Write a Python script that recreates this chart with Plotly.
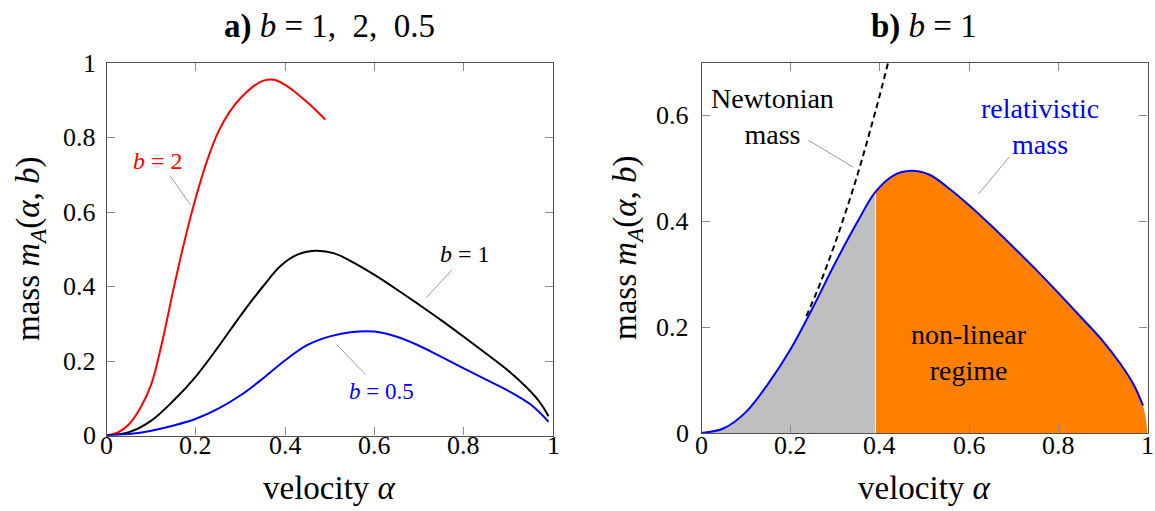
import plotly.graph_objects as go

# ---- data ----
alpha_b2 = [0, 0.025, 0.05, 0.075, 0.1, 0.125, 0.15, 0.175, 0.2, 0.225, 0.25, 0.275,
            0.3, 0.325, 0.35, 0.375, 0.4, 0.425, 0.45, 0.475, 0.49]
mass_b2 = [0, 0.008, 0.03, 0.073, 0.138, 0.255, 0.395, 0.525, 0.64, 0.738, 0.815, 0.868,
           0.906, 0.934, 0.952, 0.955, 0.941, 0.919, 0.894, 0.866, 0.848]

alpha_b1 = [0, 0.05, 0.1, 0.15, 0.2, 0.25, 0.3, 0.35, 0.39, 0.43, 0.47, 0.51,
            0.55, 0.6, 0.65, 0.7, 0.75, 0.8, 0.85, 0.9, 0.94, 0.97, 0.99]
mass_b1 = [0, 0.009, 0.04, 0.094, 0.159, 0.238, 0.322, 0.40, 0.456, 0.487, 0.496, 0.489,
           0.466, 0.431, 0.392, 0.351, 0.309, 0.265, 0.22, 0.174, 0.13, 0.09, 0.052]

alpha_b05 = [0, 0.05, 0.1, 0.15, 0.2, 0.25, 0.3, 0.35, 0.4, 0.45, 0.5, 0.55,
             0.6, 0.65, 0.7, 0.75, 0.8, 0.85, 0.9, 0.95, 0.99]
mass_b05 = [0, 0.004, 0.013, 0.027, 0.045, 0.072, 0.108, 0.153, 0.202, 0.243, 0.266,
            0.278, 0.279, 0.265, 0.241, 0.211, 0.18, 0.15, 0.12, 0.083, 0.037]

alpha_newton = [0.235, 0.26, 0.28, 0.30, 0.32, 0.34, 0.36, 0.38, 0.40, 0.42]
mass_newton = [0.221, 0.27, 0.314, 0.36, 0.41, 0.462, 0.518, 0.578, 0.64, 0.706]

regime_split = 0.39
alpha_end, mass_end = 1.0, 0.0

tick_vals = [0, 0.2, 0.4, 0.6, 0.8, 1]
tick_text = ["0", "0.2", "0.4", "0.6", "0.8", "1"]
ytick_vals_right = [0, 0.2, 0.4, 0.6]

x_title = "velocity <i>α</i>"
y_title = "mass <i>m<sub>A</sub></i>(<i>α</i>, <i>b</i>)"
title_a = "<b>a)</b> <i>b</i> = 1,&nbsp; 2,&nbsp; 0.5"
title_b = "<b>b)</b> <i>b</i> = 1"

FONT = "Liberation Serif"
TICK_SIZE = 26
AX_TITLE_SIZE = 33

fig = go.Figure()

# ---- left panel ----
fig.add_trace(go.Scatter(x=alpha_b2, y=mass_b2, mode="lines", line=dict(color="#ff0000", width=2, shape="spline"),
                         xaxis="x", yaxis="y", showlegend=False))
fig.add_trace(go.Scatter(x=alpha_b1, y=mass_b1, mode="lines", line=dict(color="#000000", width=2, shape="spline"),
                         xaxis="x", yaxis="y", showlegend=False))
fig.add_trace(go.Scatter(x=alpha_b05, y=mass_b05, mode="lines", line=dict(color="#0000ff", width=2, shape="spline"),
                         xaxis="x", yaxis="y", showlegend=False))

# ---- right panel ----
i = alpha_b1.index(regime_split)
fig.add_trace(go.Scatter(x=alpha_b1[:i + 1], y=mass_b1[:i + 1], mode="lines", fill="tozeroy",
                         fillcolor="#bfbfbf", line=dict(width=0, shape="spline", color="#bfbfbf"),
                         xaxis="x2", yaxis="y2", showlegend=False))
fig.add_trace(go.Scatter(x=alpha_b1[i:] + [alpha_end], y=mass_b1[i:] + [mass_end], mode="lines", fill="tozeroy",
                         fillcolor="#ff8000", line=dict(width=0, shape="spline", color="#ff8000"),
                         xaxis="x2", yaxis="y2", showlegend=False))
fig.add_trace(go.Scatter(x=[regime_split, regime_split], y=[0, mass_b1[i]], mode="lines",
                         line=dict(color="white", width=1), xaxis="x2", yaxis="y2", showlegend=False))
fig.add_trace(go.Scatter(x=alpha_newton, y=mass_newton, mode="lines",
                         line=dict(color="black", width=2, dash="6px,4px", shape="spline"),
                         xaxis="x2", yaxis="y2", showlegend=False))
fig.add_trace(go.Scatter(x=alpha_b1, y=mass_b1, mode="lines", line=dict(color="#0000ff", width=2, shape="spline"),
                         xaxis="x2", yaxis="y2", showlegend=False))

axis_common = dict(
    tickvals=tick_vals, ticks="inside", ticklen=8, tickcolor="#8a8a8a", tickwidth=1,
    showline=True, linecolor="#505050", linewidth=1.3, mirror="ticks", showgrid=False, zeroline=False,
    showticklabels=False, automargin=False, fixedrange=True,
)

W, H = 1155, 511
L_X0, L_X1, L_YB, L_YT = 106.7, 553.0, 435.5, 63.0
R_X0, R_X1, R_YB, R_YT = 701.5, 1147.5, 433.0, 63.0

fig.update_layout(
    width=W, height=H,
    margin=dict(l=0, r=0, t=0, b=0),
    paper_bgcolor="white", plot_bgcolor="white",
    font=dict(family=FONT, color="black"),
    xaxis=dict(domain=[L_X0 / W, L_X1 / W], range=[0, 1], anchor="y", **axis_common),
    yaxis=dict(domain=[1 - L_YB / H, 1 - L_YT / H], range=[0, 1], anchor="x", **axis_common),
    xaxis2=dict(domain=[R_X0 / W, R_X1 / W], range=[0, 1], anchor="y2", **axis_common),
    yaxis2=dict(domain=[1 - R_YB / H, 1 - R_YT / H], range=[0, 0.7], anchor="x2", **axis_common),
)

anns = []
tick_font = dict(family=FONT, size=TICK_SIZE, color="black")
# x tick labels
for xr in ("x", "x2"):
    for v, t in zip(tick_vals, tick_text):
        anns.append(dict(text=t, x=v, xref=xr, y=1 - 445 / H, yref="paper", xanchor="center",
                         yanchor="middle", showarrow=False, font=tick_font))
# y tick labels
for v, t in zip(tick_vals, tick_text):
    anns.append(dict(text=t, x=(L_X0 - 9) / W, xref="paper", y=v, yref="y", xanchor="right",
                     yanchor="middle", showarrow=False, font=tick_font))
for v, t in zip(tick_vals, tick_text):
    if v in ytick_vals_right:
        anns.append(dict(text=t, x=(R_X0 - 11) / W, xref="paper", y=v, yref="y2", xanchor="right",
                         yanchor="middle", showarrow=False, font=tick_font))
# axis titles
ax_font = dict(family=FONT, size=AX_TITLE_SIZE, color="black")
anns += [
    dict(text=x_title, x=(L_X0 + L_X1) / 2 / W, y=1 - 488 / H, xref="paper", yref="paper", font=ax_font),
    dict(text=x_title, x=(R_X0 + R_X1) / 2 / W, y=1 - 488 / H, xref="paper", yref="paper", font=ax_font),
    dict(text=y_title, x=31 / W, y=1 - 249 / H, xref="paper", yref="paper", font=ax_font, textangle=-90),
    dict(text=y_title, x=627 / W, y=1 - 248 / H, xref="paper", yref="paper", font=ax_font, textangle=-90),
]
# panel titles and labels
anns += [
    dict(text=title_a, x=(L_X0 + L_X1) / 2 / W, y=1 - 26 / H, xref="paper", yref="paper",
         font=dict(size=33, color="black")),
    dict(text=title_b, x=924 / W, y=1 - 26 / H, xref="paper", yref="paper",
         font=dict(size=33, color="black")),
    dict(text="<i>b</i> = 2", x=0.115, y=0.737, xref="x", yref="y", font=dict(size=24, color="#ff0000")),
    dict(text="<i>b</i> = 1", x=0.802, y=0.487, xref="x", yref="y", font=dict(size=24, color="black")),
    dict(text="<i>b</i> = 0.5", x=0.615, y=0.119, xref="x", yref="y", font=dict(size=23, color="#0000ff")),
    dict(text="Newtonian<br>mass", x=0.160, y=0.599, xref="x2", yref="y2", font=dict(size=28, color="black")),
    dict(text="relativistic<br>mass", x=0.76, y=0.579, xref="x2", yref="y2", font=dict(size=28, color="#0000ff")),
    dict(text="non-linear<br>regime", x=0.599, y=0.153, xref="x2", yref="y2", font=dict(size=28, color="black")),
]
for a in anns:
    a.setdefault("showarrow", False)
    a.setdefault("xanchor", "center")
    a.setdefault("yanchor", "middle")
    a["align"] = "center"
    a["font"] = dict(a["font"], family=FONT)
fig.update_layout(annotations=anns)

leaders = [
    ("x", "y", 0.142, 0.697, 0.188, 0.619),
    ("x", "y", 0.773, 0.444, 0.717, 0.371),
    ("x", "y", 0.516, 0.243, 0.579, 0.165),
    ("x2", "y2", 0.2395, 0.554, 0.340, 0.503),
    ("x2", "y2", 0.690, 0.522, 0.621, 0.452),
]
for xr, yr, x0, y0, x1, y1 in leaders:
    fig.add_shape(type="line", xref=xr, yref=yr, x0=x0, y0=y0, x1=x1, y1=y1,
                  line=dict(color="#9a9a9a", width=1))

fig.write_html("out.html")
